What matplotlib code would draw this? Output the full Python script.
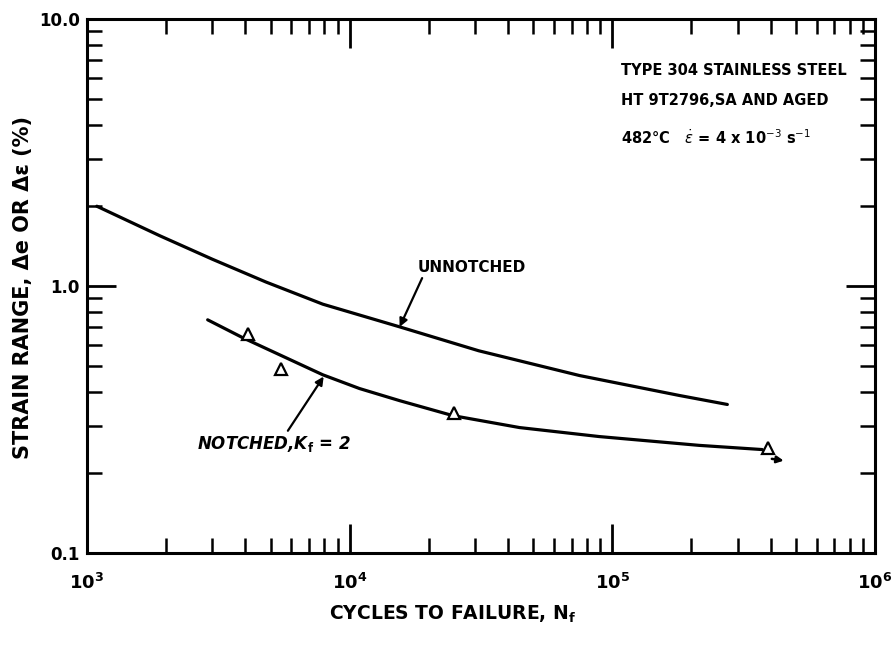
import numpy as np
import matplotlib
matplotlib.use("Agg")
import matplotlib.pyplot as plt
from matplotlib.ticker import LogLocator, NullFormatter, FixedLocator, FixedFormatter

# curves (cycles, strain range %)
unnotched_n = [1.09e3, 1.9e3, 3.0e3, 4.8e3, 7.9e3, 1.55e4, 3.1e4, 7.5e4, 1.8e5, 2.74e5]
unnotched_e = [1.99, 1.54, 1.26, 1.035, 0.855, 0.703, 0.572, 0.462, 0.389, 0.36]

notched_n = [2.88e3, 3.92e3, 7.9e3, 1.09e4, 1.55e4, 2.47e4, 4.43e4, 8.9e4, 2.14e5, 3.72e5]
notched_e = [0.747, 0.64, 0.465, 0.413, 0.372, 0.327, 0.295, 0.273, 0.253, 0.244]

# notched test points (open triangles)
test_n = [4.1e3, 5.5e3, 2.5e4, 3.92e5]
test_e = [0.66, 0.49, 0.335, 0.248]

x_ticks = [1e3, 1e4, 1e5, 1e6]
x_labels = ["$\\mathbf{10^3}$", "$\\mathbf{10^4}$", "$\\mathbf{10^5}$", "$\\mathbf{10^6}$"]
y_ticks = [0.1, 1.0, 10.0]
y_labels = ["0.1", "1.0", "10.0"]

plt.rcParams['font.family'] = ['DejaVu Sans']
plt.rcParams['mathtext.fontset'] = 'dejavusans'

fig = plt.figure(figsize=(8.95, 6.47), dpi=100)
ax = fig.add_axes([0.0972, 0.1453, 0.8805, 0.8253])

ax.set_xscale('log')
ax.set_yscale('log')
ax.set_xlim(1e3, 1e6)
ax.set_ylim(0.1, 10)

ax.plot(unnotched_n, unnotched_e, color='black', lw=2.3, solid_capstyle='round')
ax.plot(notched_n, notched_e, color='black', lw=2.3, solid_capstyle='round')
ax.plot(test_n, test_e, ls='none', marker='^', ms=8, mfc='white', mec='black', mew=1.6)

# runout arrow on last point
ax.annotate('', xy=(4.6e5, 0.221), xytext=(3.95e5, 0.226),
            arrowprops=dict(arrowstyle='-|>', color='black', lw=1.8, mutation_scale=10))

# curve labels
ax.annotate('UNNOTCHED', xy=(1.55e4, 0.703), xytext=(1.82e4, 1.17),
            fontsize=11, fontweight='bold', va='center', ha='left',
            arrowprops=dict(arrowstyle='-|>', color='black', lw=1.6, mutation_scale=12,
                            shrinkA=0, shrinkB=0, relpos=(0.05, 0.0)))
ax.annotate('NOTCHED,K$_\\mathbf{f}$ = 2', xy=(7.96e3, 0.458), xytext=(2.62e3, 0.257),
            fontsize=12, fontweight='bold', style='italic', va='center', ha='left',
            arrowprops=dict(arrowstyle='-|>', color='black', lw=1.6, mutation_scale=12,
                            shrinkA=0, shrinkB=0, relpos=(0.58, 1.0)))

# material block
ax.text(0.678, 0.904, 'TYPE 304 STAINLESS STEEL', transform=ax.transAxes,
        fontsize=10.5, fontweight='bold', va='center', ha='left')
ax.text(0.678, 0.848, 'HT 9T2796,SA AND AGED', transform=ax.transAxes,
        fontsize=10.5, fontweight='bold', va='center', ha='left')
ax.text(0.678, 0.777, '482\u00b0C   $\\dot{\\epsilon}$ = 4 x 10$^{-3}$ s$^{-1}$',
        transform=ax.transAxes, fontsize=10.5, fontweight='bold', va='center', ha='left')

# ticks
ax.xaxis.set_major_locator(FixedLocator(x_ticks))
ax.xaxis.set_major_formatter(FixedFormatter(x_labels))
ax.xaxis.set_minor_locator(LogLocator(base=10, subs=np.arange(2, 10)))
ax.xaxis.set_minor_formatter(NullFormatter())
ax.yaxis.set_major_locator(FixedLocator(y_ticks))
ax.yaxis.set_major_formatter(FixedFormatter(y_labels))
ax.yaxis.set_minor_locator(LogLocator(base=10, subs=np.arange(2, 10)))
ax.yaxis.set_minor_formatter(NullFormatter())

ax.tick_params(which='both', direction='in', top=True, right=True, color='black')
ax.tick_params(which='major', length=21, width=2)
ax.tick_params(which='minor', length=11, width=1.8)
ax.tick_params(axis='x', which='major', pad=14, labelsize=13)
ax.tick_params(axis='y', which='major', pad=5, labelsize=12)
for lab in ax.get_yticklabels():
    lab.set_fontweight('bold')

for s in ax.spines.values():
    s.set_linewidth(2.2)

ax.set_xlabel('CYCLES TO FAILURE, N$_\\mathbf{f}$', fontsize=13.5, fontweight='bold')
ax.xaxis.set_label_coords(0.4645, -0.095)
ax.set_ylabel('STRAIN RANGE, \u0394e OR \u0394\u03b5 (%)', fontsize=15, fontweight='bold')
ax.yaxis.set_label_coords(-0.068, 0.498)

fig.savefig('out.png', dpi=100)
